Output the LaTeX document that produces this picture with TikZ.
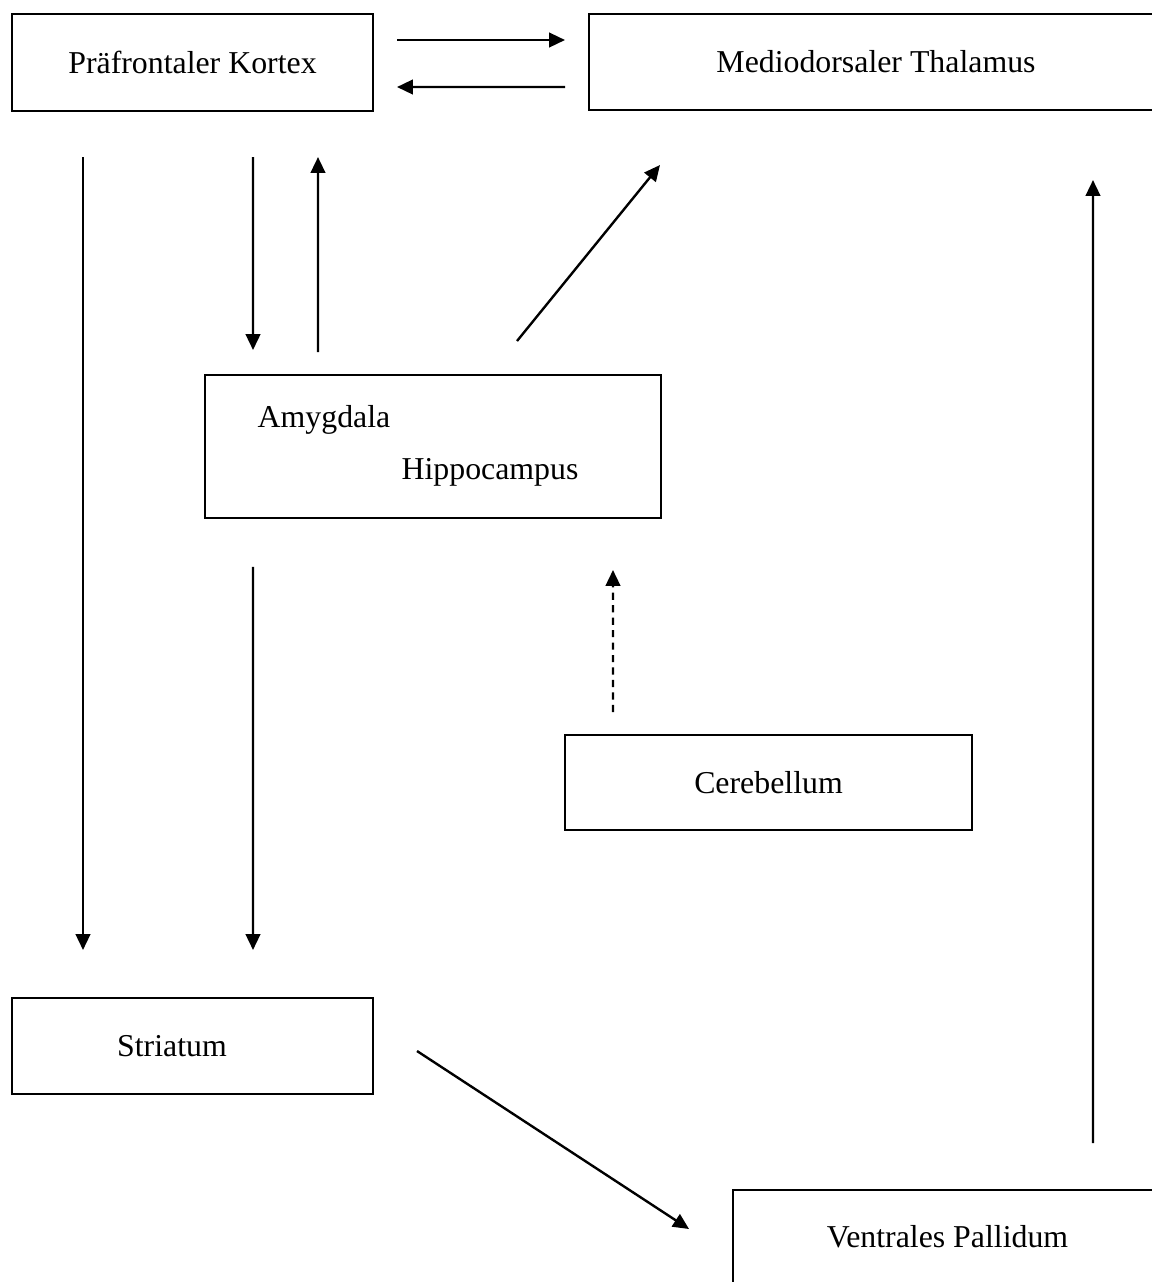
\documentclass[tikz,border=0pt]{standalone}
\usepackage{fontspec}
\setmainfont{Liberation Serif}
\usetikzlibrary{calc, positioning, arrows.meta}

\begin{document}
\begin{tikzpicture}[x=0.377pt, y=-0.377pt, line width=0.75pt, >={Triangle[length=6pt,width=5.5pt]},
    font=\fontsize{12}{14}\selectfont,
    area/.style={draw, rectangle, inner sep=0pt, outer sep=0pt},
    link/.style={->, line width=0.9pt}]
        \clip (0,0) rectangle (1152,1282);

        \node[area, minimum width=136.1pt, minimum height=36.6pt] (pk) at (192.5,62.5) {Präfrontaler Kortex};
        \node[area, minimum width=216.4pt, minimum height=36.2pt] (mt) at (876,62) {Mediodorsaler Thalamus};
        \node[area, minimum width=171.9pt, minimum height=53.9pt] (ah) at (433,446.5) {};
        \node (amy) at (324,420) {Amygdala};
        \node (hip) at (490,472) {Hippocampus};
        \node[area, minimum width=153.4pt, minimum height=35.8pt] (cb) at (768.5,782.5) {Cerebellum};
        \node[area, minimum width=136.1pt, minimum height=36.2pt] (str) at (192.5,1046) {};
        \node (strtext) at (172,1046) {Striatum};
        \node[area, minimum width=161.7pt, minimum height=35.4pt] (vp) at (947.5,1237) {Ventrales Pallidum};

        \draw[link] ($(pk.east)+(24,-22.5)$) -- ($(mt.west)+(-24,-22)$);
        \draw[link] ($(mt.west)+(-24,25)$) -- ($(pk.east)+(24,24.5)$);
        \draw[link] ($(pk.south west)+(71,46)$) -- ($(str.north west)+(71,-48)$);
        \draw[link] ($(pk.south west)+(241,46)$) -- ($(ah.north west)+(48,-25)$);
        \draw[link] ($(ah.north west)+(113,-23)$) -- ($(pk.south west)+(306,46)$);
        \draw[link] ($(ah.north)+(84,-34)$) -- ($(mt.south west)+(71,55)$);
        \draw[link] ($(ah.south west)+(48,49)$) -- ($(str.north west)+(241,-48)$);
        \draw[link, dash pattern=on 2.7pt off 2pt] ($(cb.north west)+(48,-23)$) -- ($(ah.south east)+(-48,52)$);
        \draw[link] ($(str.east)+(44,5)$) -- ($(vp.west)+(-44,-8)$);
        \draw[link] ($(vp.north west)+(360,-47)$) -- ($(mt.south west)+(504,70)$);
    \end{tikzpicture}
\end{document}
